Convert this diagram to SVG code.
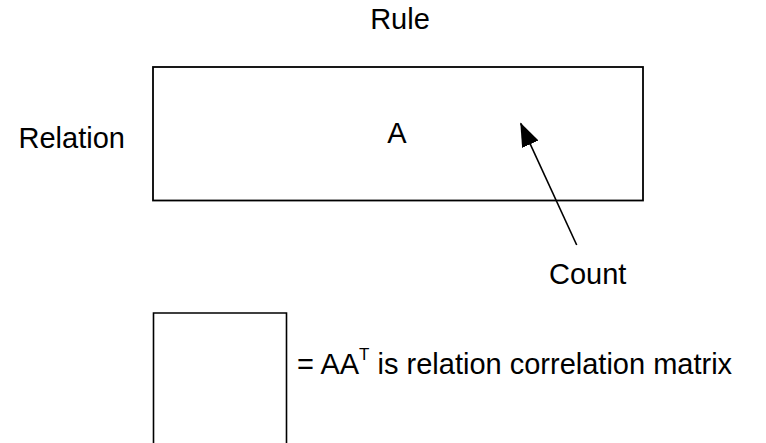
<svg xmlns="http://www.w3.org/2000/svg" width="766" height="443" viewBox="0 0 766 443">
  <style>
    .lbl { font-family: "Liberation Sans", Arial, sans-serif; font-size: 29px; fill: #000; }
    .box { fill: #fff; stroke: #000; stroke-width: 1.8; }
    .edge { stroke: #000; stroke-width: 1.6; fill: none; }
  </style>
  <defs>
    <marker id="head" markerWidth="24" markerHeight="18" refX="23" refY="9" orient="auto" markerUnits="userSpaceOnUse">
      <path d="M0,0 L24,9 L0,18 Z" fill="#000"/>
    </marker>
  </defs>
  <rect width="766" height="443" fill="#fff"/>

  <g id="rule-label">
    <text class="lbl" x="400" y="29" text-anchor="middle">Rule</text>
  </g>
  <g id="relation-label">
    <text class="lbl" x="18.5" y="148">Relation</text>
  </g>
  <g id="matrix-a">
    <rect class="box" x="153" y="67" width="490" height="133.5"/>
    <text class="lbl" x="397" y="142.5" text-anchor="middle">A</text>
  </g>
  <g id="count-label">
    <text class="lbl" x="549" y="284">Count</text>
  </g>
  <g id="correlation-matrix">
    <path class="edge" d="M153.5,445 V313 H286.5 V445" stroke-width="1.8"/>
    <text class="lbl" x="297" y="374">= AA<tspan font-size="17" dy="-14">T</tspan><tspan dy="14"> is relation correlation matrix</tspan></text>
  </g>

  <g id="connectors">
    <line class="edge" x1="576.7" y1="245" x2="520.7" y2="123.3" marker-end="url(#head)"/>
  </g>
</svg>
